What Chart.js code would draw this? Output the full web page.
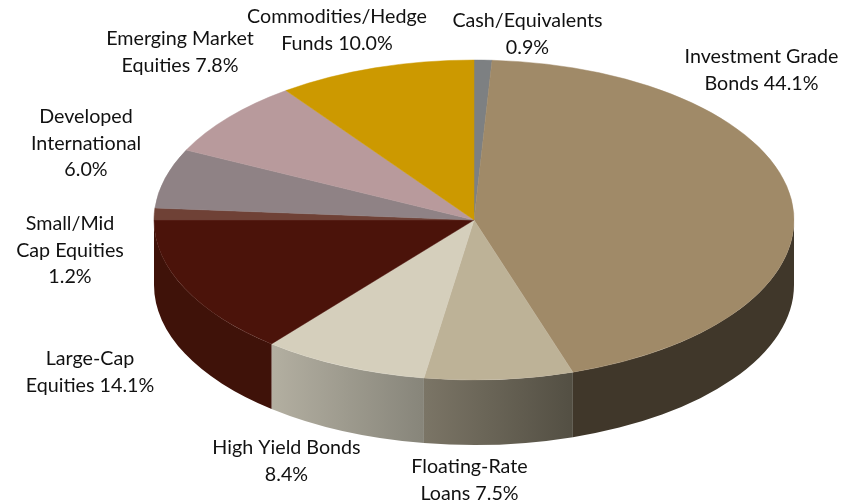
<!DOCTYPE html>
<html>
<head>
<meta charset="utf-8">
<title>Asset allocation</title>
<script src="https://cdn.jsdelivr.net/npm/chart.js@4/dist/chart.umd.min.js"></script>
<style>
  html, body { margin: 0; padding: 0; background: #fff; }
  canvas { display: block; }
</style>
</head>
<body>
<canvas id="pie" width="854" height="502"></canvas>
<script>
// Slices, clockwise from 12 o'clock
const categories = ['Cash/Equivalents', 'Investment Grade Bonds', 'Floating-Rate Loans', 'High Yield Bonds',
  'Large-Cap Equities', 'Small/Mid Cap Equities', 'Developed International', 'Emerging Market Equities',
  'Commodities/Hedge Funds'];
const values = [0.9, 44.1, 7.5, 8.4, 14.1, 1.2, 6.0, 7.8, 10.0];
const topColors = ['#7d8082', '#a08a68', '#bdb297', '#d5cfbc', '#4b130a', '#6f4136', '#8f8285', '#b89a9c', '#cc9900'];

// Label lines; the value gets appended to the last entry
const labelLines = [
  ['Cash/Equivalents', ''],
  ['Investment Grade', 'Bonds'],
  ['Floating-Rate', 'Loans'],
  ['High Yield Bonds', ''],
  ['Large-Cap', 'Equities'],
  ['Small/Mid', 'Cap Equities', ''],
  ['Developed', 'International', ''],
  ['Emerging Market', 'Equities'],
  ['Commodities/Hedge', 'Funds']
];
const labelX = [527.5, 761.5, 469.5, 286.5, 90, 70, 86, 180, 337];
const labelY = [21, 57, 467, 448, 359, 224, 117, 39, 17];
const labelGap = 26.5;

// Side wall shading, left and right end of each slice
const wallColors = [
  ['#40372a', '#40372a'], ['#40372a', '#40372a'], ['#7b7566', '#534f43'], ['#b3afa1', '#87857a'],
  ['#3f1209', '#3f1209'], ['#3f1209', '#3f1209'], ['#3f1209', '#3f1209'], ['#3f1209', '#3f1209'], ['#3f1209', '#3f1209']
];

// Where the tilted disc sits on the page
const cx = 474, cy = 220, rx = 320, ry = 160, depth = 65;

const tiltPlugin = {
  id: 'tilt',
  beforeDatasetsDraw(chart) {
    const ctx = chart.ctx;
    const arcs = chart.getDatasetMeta(0).data;

    // front wall, only the part of the rim facing down
    arcs.forEach((arc, i) => {
      const a1 = Math.max(arc.startAngle, 0);
      const a2 = Math.min(arc.endAngle, Math.PI);
      if (a2 <= a1) return;
      const xa = cx + rx * Math.cos(a2), xb = cx + rx * Math.cos(a1);
      const grad = ctx.createLinearGradient(xa, 0, xb, 0);
      grad.addColorStop(0, wallColors[i][0]);
      grad.addColorStop(1, wallColors[i][1]);
      ctx.beginPath();
      ctx.ellipse(cx, cy, rx, ry, 0, a1, a2);
      ctx.ellipse(cx, cy + depth, rx, ry, 0, a2, a1, true);
      ctx.closePath();
      ctx.fillStyle = grad;
      ctx.fill();
    });

    // squash the library's round pie into the ellipse
    const first = arcs[0];
    ctx.save();
    ctx.translate(cx, cy);
    ctx.scale(rx / first.outerRadius, ry / first.outerRadius);
    ctx.translate(-first.x, -first.y);
  },
  afterDatasetsDraw(chart) {
    const ctx = chart.ctx;
    ctx.restore();

    ctx.save();
    ctx.font = '19.7px Lato';
    ctx.fillStyle = '#111';
    ctx.textAlign = 'center';
    ctx.textBaseline = 'middle';
    labelLines.forEach((lines, i) => {
      lines.forEach((line, j) => {
        let txt = line;
        if (j === lines.length - 1) txt = (line + ' ' + values[i].toFixed(1) + '%').trim();
        ctx.fillText(txt, labelX[i], labelY[i] + j * labelGap);
      });
    });
    ctx.restore();
  }
};

new Chart(document.getElementById('pie'), {
  type: 'pie',
  data: {
    labels: categories,
    datasets: [{
      data: values,
      backgroundColor: topColors,
      borderColor: topColors,
      borderWidth: 0.5,
      clip: false
    }]
  },
  options: {
    responsive: false,
    animation: false,
    plugins: { legend: { display: false }, tooltip: { enabled: false } }
  },
  plugins: [tiltPlugin]
});
</script>
</body>
</html>
